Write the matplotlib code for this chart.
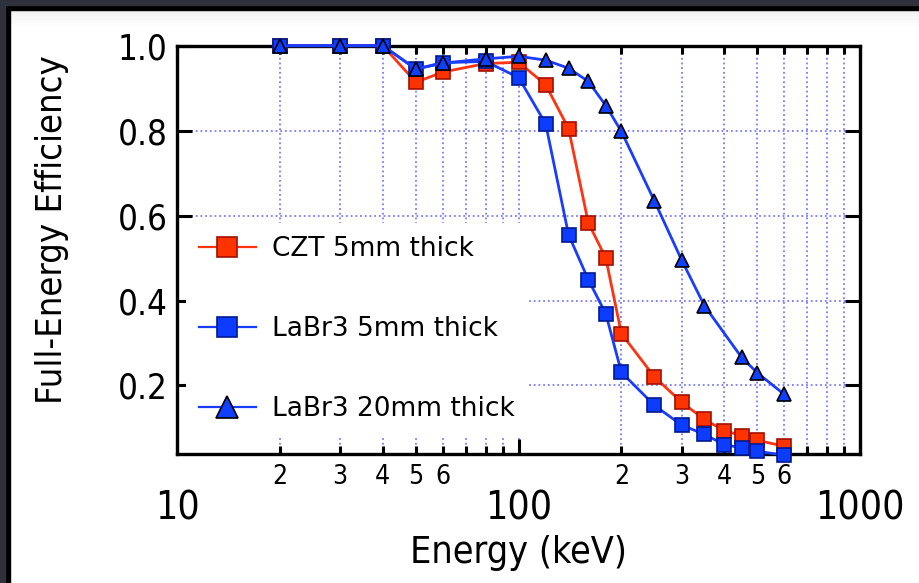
import numpy as np
import matplotlib
matplotlib.use('Agg')
import matplotlib.pyplot as plt
from matplotlib.patches import Rectangle
from matplotlib.ticker import FixedLocator, FixedFormatter

# data
energy = [20, 30, 40, 50, 60, 80, 100, 120, 140, 160, 180, 200, 250, 300, 350, 400, 450, 500, 600]
eff_czt5 = [1.0, 1.0, 1.0, 0.914, 0.938, 0.958, 0.961, 0.908, 0.805, 0.583, 0.500, 0.322,
            0.220, 0.161, 0.120, 0.094, 0.082, 0.071, 0.057]
eff_labr5 = [1.0, 1.0, 1.0, 0.945, 0.960, 0.963, 0.925, 0.816, 0.555, 0.449, 0.369, 0.231,
             0.153, 0.107, 0.085, 0.061, 0.053, 0.045, 0.036]
energy_labr20 = [20, 30, 40, 50, 60, 80, 100, 120, 140, 160, 180, 200, 250, 300, 350, 450, 500, 600]
eff_labr20 = [1.0, 1.0, 1.0, 0.945, 0.959, 0.969, 0.975, 0.966, 0.947, 0.916, 0.859, 0.798,
              0.634, 0.496, 0.388, 0.266, 0.230, 0.179]

labels = ['CZT 5mm thick', 'LaBr3 5mm thick', 'LaBr3 20mm thick']
y_ticks = [0.2, 0.4, 0.6, 0.8, 1.0]
y_ticklabels = ['0.2', '0.4', '0.6', '0.8', '1.0']
x_major = [10, 100, 1000]
x_major_labels = ['10', '100', '1000']
x_minor = [m * d for d in (10, 100) for m in range(2, 10)]
x_minor_labels = [str(m) if m <= 6 else '' for d in (10, 100) for m in range(2, 10)]

red = '#ff3311'
blue = '#1a3cff'

axfont = dict(family='DejaVu Sans', stretch='condensed')

fig = plt.figure(figsize=(9.2, 5.83), dpi=100)
fig.patch.set_facecolor('white')

# dark screenshot border top / left
W, H = 920.0, 583.0
fig.add_artist(Rectangle((0, 1 - 10 / H), 1, 10 / H, transform=fig.transFigure, color='black', zorder=-5))
fig.add_artist(Rectangle((0, 1 - 4.5 / H), 1, 4.5 / H, transform=fig.transFigure, color='#2e303c', zorder=-4))
fig.add_artist(Rectangle((0, 0), 10.5 / W, 1, transform=fig.transFigure, color='black', zorder=-5))
fig.add_artist(Rectangle((0, 0), 5 / W, 1, transform=fig.transFigure, color='#2e303c', zorder=-4))
for i in range(10):
    fig.add_artist(Rectangle((10.5 / W, 1 - (10 + 1.6 * (i + 1)) / H), 1, 1.6 / H,
                             transform=fig.transFigure, color='black',
                             alpha=0.06 * (1 - i / 10.0), lw=0, zorder=-6))

ax = fig.add_axes([177.3 / W, 1 - 454.3 / H, (860 - 177.3) / W, (454.3 - 45.7) / H])

ax.plot(energy, eff_czt5, '-s', color=red, lw=2.0, ms=9.5, mfc='#ff3300', mec='#a01000',
        mew=1.2, label=labels[0], clip_on=False, zorder=3)
ax.plot(energy, eff_labr5, '-s', color=blue, lw=2.0, ms=9.5, mfc='#0b3cff', mec='#001a90',
        mew=1.2, label=labels[1], clip_on=False, zorder=4)
ax.plot(energy_labr20, eff_labr20, '-^', color=blue, lw=2.0, ms=10.5, mfc='#1040ff', mec='black',
        mew=1.2, label=labels[2], clip_on=False, zorder=5)

ax.set_xscale('log')
ax.set_xlim(10, 1000)
ax.set_ylim(0.038, 1.0)

ax.xaxis.set_major_locator(FixedLocator(x_major))
ax.xaxis.set_major_formatter(FixedFormatter(x_major_labels))
ax.xaxis.set_minor_locator(FixedLocator(x_minor))
ax.xaxis.set_minor_formatter(FixedFormatter(x_minor_labels))
ax.set_yticks(y_ticks)
ax.set_yticklabels(y_ticklabels)

ax.tick_params(which='both', direction='in', top=True, right=True, color='black')
ax.tick_params(which='major', length=11, width=2.2)
ax.tick_params(which='minor', length=5.5, width=2.2)
ax.tick_params(axis='x', which='major', pad=25, labelsize=28)
ax.tick_params(axis='x', which='minor', pad=7, labelsize=19)
ax.tick_params(axis='y', which='major', pad=7, labelsize=25)
for lab in ax.get_xticklabels(which='both') + ax.get_yticklabels():
    lab.set_fontstretch('condensed')

for s in ax.spines.values():
    s.set_linewidth(2.4)

ax.grid(True, which='major', axis='y', color='#7b7bff', ls=(0, (1, 1.6)), lw=1.3)
ax.grid(True, which='both', axis='x', color='#7b7bff', ls=(0, (1, 1.6)), lw=1.3)
ax.set_axisbelow(True)

ax.set_xlabel('Energy (keV)', fontsize=27, labelpad=6, **axfont)
ax.set_ylabel('Full-Energy Efficiency', fontsize=26, **axfont)
ax.yaxis.set_label_coords(-0.158, 0.549)

leg = ax.legend(loc='upper left', bbox_to_anchor=(0.0125, 0.566), borderaxespad=0,
                frameon=True, fancybox=False, framealpha=1, edgecolor='none',
                fontsize=19, labelspacing=2.05, handlelength=2.15, handletextpad=0.6,
                borderpad=0.5, markerscale=1.5)
for line in leg.get_lines():
    line.set_linewidth(1.6)
leg.set_zorder(10)

fig.savefig('out.png', dpi=100)
